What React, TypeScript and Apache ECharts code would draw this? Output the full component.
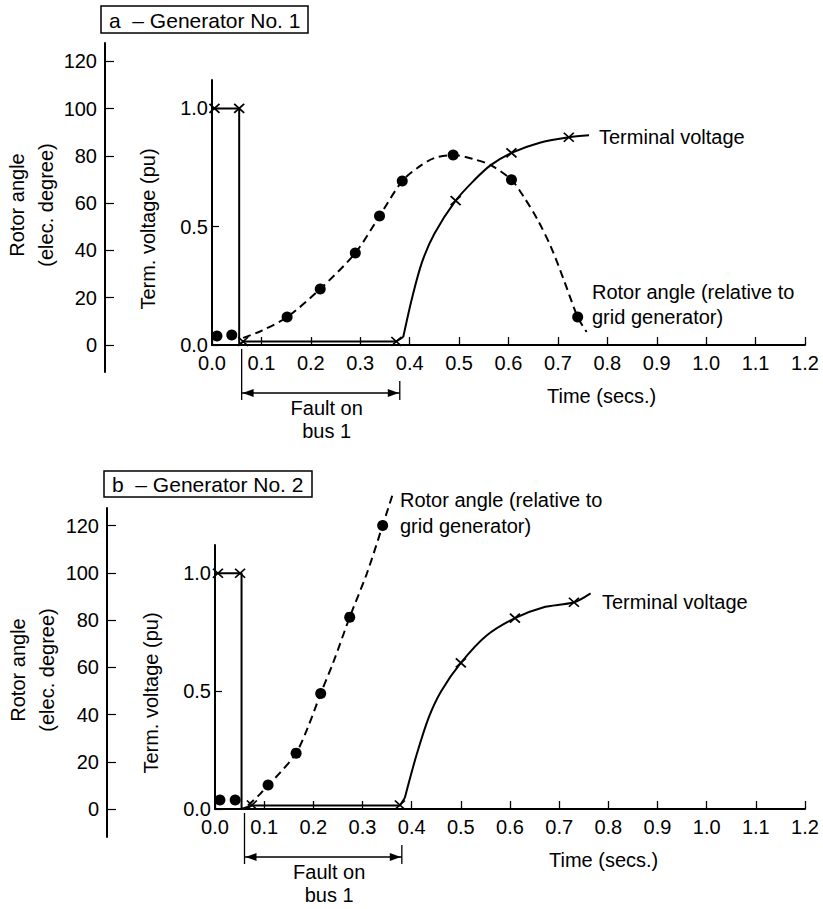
import React, { useEffect, useRef } from "react";
import * as echarts from "echarts";

// ---------- Data ----------
const timeMin = 0;
const timeMax = 1.2;
const timeStep = 0.1;
const rotorTickValues = [0, 20, 40, 60, 80, 100, 120];
const voltTickValues = [0, 0.5, 1.0];
const faultStart = 0.06;
const faultEnd = 0.38;

// Panel a – Generator No. 1
const voltStepA_t = [0.005, 0.055, 0.055, 0.063, 0.373, 0.387];
const voltStepA_v = [1.0, 1.0, 0.0, 0.015, 0.015, 0.034];
const voltRiseA_t = [0.387, 0.405, 0.425, 0.45, 0.493, 0.53, 0.564, 0.606, 0.665, 0.722, 0.763];
const voltRiseA_v = [0.034, 0.2, 0.35, 0.47, 0.61, 0.695, 0.76, 0.812, 0.856, 0.878, 0.886];
const voltMarkA_t = [0.005, 0.055, 0.063, 0.373, 0.493, 0.606, 0.722];
const voltMarkA_v = [1.0, 1.0, 0.015, 0.015, 0.61, 0.812, 0.878];
const rotorA_t = [0.063, 0.1, 0.152, 0.219, 0.29, 0.339, 0.385, 0.42, 0.45, 0.488, 0.53, 0.564, 0.606, 0.631, 0.659, 0.686, 0.712, 0.74, 0.758];
const rotorA_deg = [3, 6, 11.8, 23.7, 38.9, 54.5, 69.3, 75.5, 79, 80.3, 78.5, 76, 69.8, 62.6, 52.9, 41.4, 27.5, 11.8, 5.5];
const rotorDotA_t = [0.01, 0.04, 0.152, 0.219, 0.29, 0.339, 0.385, 0.488, 0.606, 0.74];
const rotorDotA_deg = [3.8, 4.2, 11.8, 23.7, 38.9, 54.5, 69.3, 80.3, 69.8, 11.8];

// Panel b – Generator No. 2
const voltStepB_t = [0.006, 0.054, 0.054, 0.075, 0.376, 0.386];
const voltStepB_v = [1.0, 1.0, 0.0, 0.015, 0.015, 0.047];
const voltRiseB_t = [0.386, 0.41, 0.435, 0.46, 0.5, 0.553, 0.61, 0.667, 0.73, 0.764];
const voltRiseB_v = [0.047, 0.23, 0.39, 0.5, 0.62, 0.737, 0.81, 0.855, 0.877, 0.915];
const voltMarkB_t = [0.006, 0.051, 0.075, 0.376, 0.5, 0.61, 0.73];
const voltMarkB_v = [1.0, 1.0, 0.017, 0.017, 0.62, 0.81, 0.877];
const rotorB_t = [0.067, 0.09, 0.108, 0.132, 0.165, 0.189, 0.215, 0.24, 0.274, 0.309, 0.341, 0.362];
const rotorB_deg = [1.5, 6, 10.2, 15.3, 23.7, 34.7, 49, 61.9, 81.4, 100, 120.3, 133.9];
const rotorDotB_t = [0.01, 0.041, 0.108, 0.165, 0.215, 0.274, 0.341];
const rotorDotB_deg = [3.8, 3.8, 10.2, 23.7, 49, 81.4, 120.3];

// ---------- helpers ----------
const FONT = "'Liberation Sans', Arial, Helvetica, sans-serif";
const zip = (a: number[], b: number[]) => a.map((x, i) => [x, b[i]]);
const CROSS = "path://M0,0L10,10M10,0L0,10";

function timeAxis(gridIndex: number) {
  return {
    type: "value",
    gridIndex,
    min: timeMin,
    max: timeMax,
    interval: timeStep,
    axisLine: { show: true, onZero: false, lineStyle: { color: "#000", width: 2 } },
    axisTick: { show: true, inside: true, length: 8, lineStyle: { color: "#000", width: 1.3 } },
    axisLabel: {
      show: true,
      margin: 8,
      color: "#000",
      fontSize: 20,
      fontFamily: FONT,
      formatter: (v: number) => v.toFixed(1),
    },
    splitLine: { show: false },
  };
}
function hiddenX(gridIndex: number) {
  return { type: "value", gridIndex, min: 0, max: 1, show: false };
}
function voltAxis(gridIndex: number) {
  return {
    type: "value",
    gridIndex,
    min: 0,
    max: 1.12,
    axisLine: { show: true, onZero: false, lineStyle: { color: "#000", width: 2 } },
    axisTick: {
      show: true,
      inside: true,
      length: 7,
      customValues: voltTickValues,
      lineStyle: { color: "#000", width: 1.2 },
    },
    axisLabel: {
      show: true,
      margin: 4,
      color: "#000",
      fontSize: 20,
      fontFamily: FONT,
      customValues: voltTickValues,
      formatter: (v: number) => v.toFixed(1),
    },
    splitLine: { show: false },
  };
}
function hiddenRotor(gridIndex: number) {
  return { type: "value", gridIndex, min: 0, max: 112, show: false };
}
function rotorAxis(gridIndex: number, min: number, max: number) {
  return {
    type: "value",
    gridIndex,
    min,
    max,
    axisLine: { show: true, onZero: false, lineStyle: { color: "#000", width: 2 } },
    axisTick: {
      show: true,
      inside: true,
      length: 9,
      customValues: rotorTickValues,
      lineStyle: { color: "#000", width: 1.2 },
    },
    axisLabel: {
      show: true,
      margin: 8,
      color: "#000",
      fontSize: 20,
      fontFamily: FONT,
      customValues: rotorTickValues,
    },
    splitLine: { show: false },
  };
}

function panelSeries(
  xi: number,
  yv: number,
  yr: number,
  stepT: number[], stepV: number[],
  riseT: number[], riseV: number[],
  markT: number[], markV: number[],
  rotT: number[], rotD: number[],
  dotT: number[], dotD: number[]
) {
  return [
    {
      type: "line", xAxisIndex: xi, yAxisIndex: yv, data: zip(stepT, stepV),
      symbol: "none", smooth: false, silent: true,
      lineStyle: { color: "#000", width: 2 },
    },
    {
      type: "line", xAxisIndex: xi, yAxisIndex: yv, data: zip(riseT, riseV),
      symbol: "none", smooth: 0.3, silent: true,
      lineStyle: { color: "#000", width: 2 },
    },
    {
      type: "scatter", xAxisIndex: xi, yAxisIndex: yv, data: zip(markT, markV),
      symbol: CROSS, symbolSize: [10, 9], silent: true, z: 5,
      itemStyle: { color: "rgba(0,0,0,0)", borderColor: "#000", borderWidth: 1.7, opacity: 1 },
    },
    {
      type: "line", xAxisIndex: xi, yAxisIndex: yr, data: zip(rotT, rotD),
      symbol: "none", smooth: 0.3, silent: true, clip: false,
      lineStyle: { color: "#000", width: 2, type: [8, 5] },
    },
    {
      type: "scatter", xAxisIndex: xi, yAxisIndex: yr, data: zip(dotT, dotD),
      symbol: "circle", symbolSize: 11, silent: true, z: 5, clip: false,
      itemStyle: { color: "#000", opacity: 1 },
    },
  ];
}

function txt(x: number, y: number, text: string, extra: any = {}) {
  return {
    type: "text",
    x,
    y,
    silent: true,
    ...extra,
    style: {
      text,
      fill: "#000",
      fontSize: 20,
      fontFamily: FONT,
      align: "left",
      verticalAlign: "middle",
      ...(extra.style || {}),
    },
  };
}

export default function App() {
  const ref = useRef<HTMLDivElement>(null);
  useEffect(() => {
    if (!ref.current) return;
    const chart = echarts.init(ref.current, undefined, { renderer: "svg" });
    const option: any = {
      animation: false,
      backgroundColor: "#fff",
      textStyle: { fontFamily: FONT, color: "#000" },
      grid: [
        { left: 212, top: 80, width: 593, height: 265, outerBoundsMode: "none" },
        { left: 105, top: 43, width: 10, height: 329, outerBoundsMode: "none" },
        { left: 215, top: 545, width: 590, height: 264, outerBoundsMode: "none" },
        { left: 107, top: 508, width: 10, height: 329, outerBoundsMode: "none" },
      ],
      xAxis: [timeAxis(0), hiddenX(1), timeAxis(2), hiddenX(3)],
      yAxis: [
        voltAxis(0),
        hiddenRotor(0),
        rotorAxis(1, -11.42, 127.7),
        voltAxis(2),
        hiddenRotor(2),
        rotorAxis(3, -11.86, 127.5),
      ],
      series: [
        ...panelSeries(0, 0, 1, voltStepA_t, voltStepA_v, voltRiseA_t, voltRiseA_v,
          voltMarkA_t, voltMarkA_v, rotorA_t, rotorA_deg, rotorDotA_t, rotorDotA_deg),
        ...panelSeries(2, 3, 4, voltStepB_t, voltStepB_v, voltRiseB_t, voltRiseB_v,
          voltMarkB_t, voltMarkB_v, rotorB_t, rotorB_deg, rotorDotB_t, rotorDotB_deg),
      ],
    };
    chart.setOption(option);

    const faultGraphics = (xi: number, yi: number) => {
      const x0 = chart.convertToPixel({ xAxisIndex: xi } as any, faultStart) as number;
      const x1 = chart.convertToPixel({ xAxisIndex: xi } as any, faultEnd) as number;
      const yb = chart.convertToPixel({ yAxisIndex: yi } as any, 0) as number;
      const ls = { stroke: "#000", lineWidth: 1.3 };
      const ya = yb + 48;
      return [
        { type: "line", silent: true, shape: { x1: x0, y1: yb + 4, x2: x0, y2: yb + 55 }, style: ls },
        { type: "line", silent: true, shape: { x1: x1, y1: yb + 36, x2: x1, y2: yb + 55 }, style: ls },
        { type: "line", silent: true, shape: { x1: x0, y1: ya, x2: x1, y2: ya }, style: ls },
        {
          type: "polygon", silent: true,
          shape: { points: [[x0 + 1, ya], [x0 + 12, ya - 4], [x0 + 12, ya + 4]] },
          style: { fill: "#000" },
        },
        {
          type: "polygon", silent: true,
          shape: { points: [[x1 - 1, ya], [x1 - 12, ya - 4], [x1 - 12, ya + 4]] },
          style: { fill: "#000" },
        },
        txt((x0 + x1) / 2 + 6, yb + 63, "Fault on", { style: { align: "center" } }),
        txt((x0 + x1) / 2 + 6, yb + 86, "bus 1", { style: { align: "center" } }),
      ];
    };

    const graphics: any[] = [
      // titles
      { type: "rect", silent: true, shape: { x: 101, y: 6, width: 207, height: 27 }, style: { fill: "none", stroke: "#000", lineWidth: 1.5 } },
      txt(109, 20, "a  \u2013 Generator No. 1", { style: { fontSize: 21 } }),
      { type: "rect", silent: true, shape: { x: 104, y: 471, width: 208, height: 26 }, style: { fill: "none", stroke: "#000", lineWidth: 1.5 } },
      txt(112, 484.5, "b  \u2013 Generator No. 2", { style: { fontSize: 21 } }),
      // axis names
      txt(31, 205, "Rotor angle\n(elec. degree)", { rotation: Math.PI / 2, style: { align: "center", lineHeight: 29 } }),
      txt(32, 670, "Rotor angle\n(elec. degree)", { rotation: Math.PI / 2, style: { align: "center", lineHeight: 29 } }),
      txt(148, 229, "Term. voltage (pu)", { rotation: Math.PI / 2, style: { align: "center" } }),
      txt(151, 693, "Term. voltage (pu)", { rotation: Math.PI / 2, style: { align: "center" } }),
      txt(547, 396, "Time (secs.)"),
      txt(549, 860, "Time (secs.)"),
      // series labels
      txt(599, 137, "Terminal voltage"),
      txt(602, 602, "Terminal voltage"),
      txt(592, 304, "Rotor angle (relative to\ngrid generator)", { style: { lineHeight: 25 } }),
      txt(400, 513, "Rotor angle (relative to\ngrid generator)", { style: { lineHeight: 26 } }),
      ...faultGraphics(0, 0),
      ...faultGraphics(2, 3),
    ];
    chart.setOption({ graphic: graphics });

    return () => chart.dispose();
  }, []);

  return (
    <div
      ref={ref}
      style={{ position: "absolute", left: 0, top: 0, width: 823, height: 909, background: "#fff" }}
    />
  );
}
